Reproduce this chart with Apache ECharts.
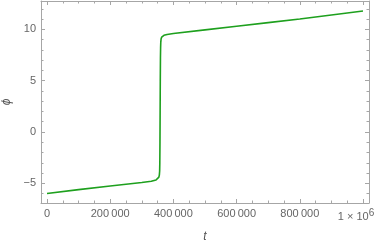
<!DOCTYPE html>
<html><head><meta charset="utf-8">
<script src="https://cdn.jsdelivr.net/npm/echarts@6/dist/echarts.min.js"></script>
<style>html,body{margin:0;padding:0;background:#fff}#c{width:382px;height:244px}</style>
</head><body><div id="c"></div>
<script>
const tValues = [0, 100000, 200000, 300000, 330000, 345000, 351000, 354000, 355500, 356500, 357000, 357500, 358000, 358500, 359000, 359500, 360000, 361000, 363000, 366000, 370000, 380000, 400000, 500000, 600000, 700000, 800000, 900000, 1000000];
const phiValues = [-6.0, -5.62, -5.26, -4.92, -4.8, -4.68, -4.55, -4.4, -4.2, -3.8, -3.0, -1.0, 2.0, 5.0, 7.2, 8.2, 8.7, 9.05, 9.25, 9.35, 9.42, 9.5, 9.6, 9.95, 10.3, 10.65, 11.0, 11.4, 11.78];
const xMajorTicks = [0, 200000, 400000, 600000, 800000, 1000000];
const xMinorTicks = [0, 50000, 100000, 150000, 200000, 250000, 300000, 350000, 400000, 450000, 500000, 550000, 600000, 650000, 700000, 750000, 800000, 850000, 900000, 950000, 1000000];
const yMajorTicks = [-5, 0, 5, 10];
const yMinorTicks = [-6, -5, -4, -3, -2, -1, 0, 1, 2, 3, 4, 5, 6, 7, 8, 9, 10, 11, 12];
const xLabelText = {0: '0', 200000: '200\u2009000', 400000: '400\u2009000', 600000: '600\u2009000', 800000: '800\u2009000', 1000000: '{a|1 \u00d7 10}{b|6}'};

const frameColor = '#a6a6a6';
const textColor = '#666666';
const font = 'Liberation Sans';
const X_MIN = -19000, X_MAX = 1019000, Y_MIN = -6.92, Y_MAX = 12.76;

function xAxisDef(pos, major, show) {
  return {
    type: 'value', position: pos, min: X_MIN, max: X_MAX, gridIndex: 0,
    axisLine: { show: show, onZero: false, lineStyle: { color: frameColor, width: 1 } },
    axisTick: { show: true, inside: true, length: major ? 4 : 2.5, customValues: major ? xMajorTicks : xMinorTicks, lineStyle: { color: frameColor } },
    axisLabel: { show: major && pos === 'bottom', customValues: xMajorTicks, margin: 5, color: textColor, fontFamily: font, fontSize: 11, hideOverlap: false,
      formatter: v => xLabelText[v] !== undefined ? xLabelText[v] : '',
      rich: { a: { color: textColor, fontFamily: font, fontSize: 11 }, b: { color: textColor, fontFamily: font, fontSize: 10, padding: [0, 14, 7, 0] } } },
    splitLine: { show: false },
    name: (major && pos === 'bottom') ? 't' : '', nameLocation: 'middle', nameGap: 28,
    nameTextStyle: { fontStyle: 'italic', fontFamily: font, fontSize: 12, color: '#555' }
  };
}
function yAxisDef(pos, major, show) {
  return {
    type: 'value', position: pos, min: Y_MIN, max: Y_MAX, gridIndex: 0,
    axisLine: { show: show, onZero: false, lineStyle: { color: frameColor, width: 1 } },
    axisTick: { show: true, inside: true, length: major ? 4 : 2.5, customValues: major ? yMajorTicks : yMinorTicks, lineStyle: { color: frameColor } },
    axisLabel: { show: major && pos === 'left', customValues: yMajorTicks, margin: 5, color: textColor, fontFamily: font, fontSize: 11,
      formatter: v => (v < 0 ? '\u2212' + Math.abs(v) : String(v)) },
    splitLine: { show: false },
    name: (major && pos === 'left') ? '\u03d5' : '', nameLocation: 'middle', nameGap: 28, nameRotate: 90,
    nameTextStyle: { fontStyle: 'italic', fontFamily: font, fontSize: 12, color: '#555' }
  };
}

const chart = echarts.init(document.getElementById('c'), null, { renderer: 'canvas' });
chart.setOption({
  animation: false,
  grid: { left: 41, right: 13, top: 1, bottom: 41, containLabel: false, outerBoundsMode: 'none' },
  xAxis: [xAxisDef('bottom', true, true), xAxisDef('bottom', false, false), xAxisDef('top', true, true), xAxisDef('top', false, false)],
  yAxis: [yAxisDef('left', true, true), yAxisDef('left', false, false), yAxisDef('right', true, true), yAxisDef('right', false, false)],
  series: [{
    type: 'line', xAxisIndex: 0, yAxisIndex: 0, showSymbol: false, smooth: false,
    lineStyle: { color: '#1ea01e', width: 1.6 },
    data: tValues.map((t, i) => [t, phiValues[i]])
  }]
});
</script></body></html>
